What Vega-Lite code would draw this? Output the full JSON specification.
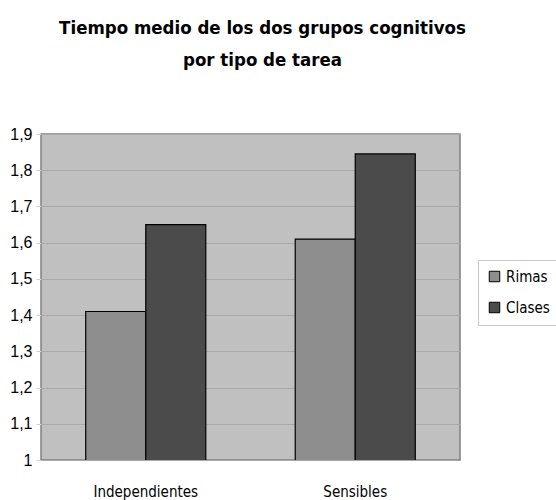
{
  "$schema": "https://vega.github.io/schema/vega-lite/v6.json",
  "autosize": "none",
  "padding": {"left": 41, "top": 134, "right": 96, "bottom": 40},
  "width": 419,
  "height": 326,
  "background": "white",
  "title": {
    "text": ["Tiempo medio de los dos grupos cognitivos", "por tipo de tarea"],
    "font": "DejaVu Sans Condensed, Liberation Sans, sans-serif",
    "fontSize": 18.5,
    "fontWeight": "bold",
    "color": "black",
    "lineHeight": 32,
    "anchor": "middle",
    "frame": "group",
    "offset": 57,
    "dx": 12
  },
  "data": {
    "values": [
      {"tarea": "Independientes", "grupo": "Rimas", "tiempo": 1.41},
      {"tarea": "Independientes", "grupo": "Clases", "tiempo": 1.65},
      {"tarea": "Sensibles", "grupo": "Rimas", "tiempo": 1.61},
      {"tarea": "Sensibles", "grupo": "Clases", "tiempo": 1.845}
    ]
  },
  "mark": {"type": "bar", "stroke": "black", "strokeWidth": 1.2, "clip": true},
  "encoding": {
    "x": {
      "field": "tarea",
      "type": "nominal",
      "sort": ["Independientes", "Sensibles"],
      "scale": {"paddingInner": 0.427, "paddingOuter": 0.2135},
      "axis": {
        "title": null,
        "labelAngle": 0,
        "labelFont": "DejaVu Sans Condensed, Liberation Sans, sans-serif",
        "labelFontSize": 15,
        "labelColor": "black",
        "labelPadding": 24,
        "ticks": false,
        "domain": false
      }
    },
    "xOffset": {"field": "grupo", "type": "nominal", "sort": ["Rimas", "Clases"], "scale": {"paddingInner": 0, "paddingOuter": 0}},
    "y": {
      "field": "tiempo",
      "type": "quantitative",
      "scale": {"domain": [1, 1.9], "zero": false, "nice": false},
      "axis": {
        "title": null,
        "values": [1, 1.1, 1.2, 1.3, 1.4, 1.5, 1.6, 1.7, 1.8, 1.9],
        "labelExpr": "replace(toString(round(datum.value*10)/10), '.', ',')",
        "labelFont": "Liberation Sans",
        "labelFontSize": 16,
        "labelColor": "black",
        "labelPadding": 4,
        "tickColor": "#d0d0d0",
        "tickSize": 5,
        "grid": true,
        "gridColor": "#a8a8a8",
        "gridWidth": 1,
        "domain": false
      }
    },
    "color": {
      "field": "grupo",
      "type": "nominal",
      "sort": ["Rimas", "Clases"],
      "scale": {"domain": ["Rimas", "Clases"], "range": ["#8e8e8e", "#4b4b4b"]},
      "legend": {
        "title": null,
        "orient": "none",
        "legendX": 437,
        "legendY": 126,
        "symbolType": "square",
        "symbolSize": 110,
        "symbolStrokeColor": "black",
        "symbolStrokeWidth": 1,
        "labelFont": "DejaVu Sans Condensed, Liberation Sans, sans-serif",
        "labelFontSize": 15,
        "labelColor": "black",
        "rowPadding": 15,
        "padding": 9,
        "strokeColor": "#c8c8c8",
        "fillColor": "white"
      }
    }
  },
  "config": {
    "view": {"fill": "#c0c0c0", "stroke": "#808080", "strokeWidth": 1.5}
  }
}
